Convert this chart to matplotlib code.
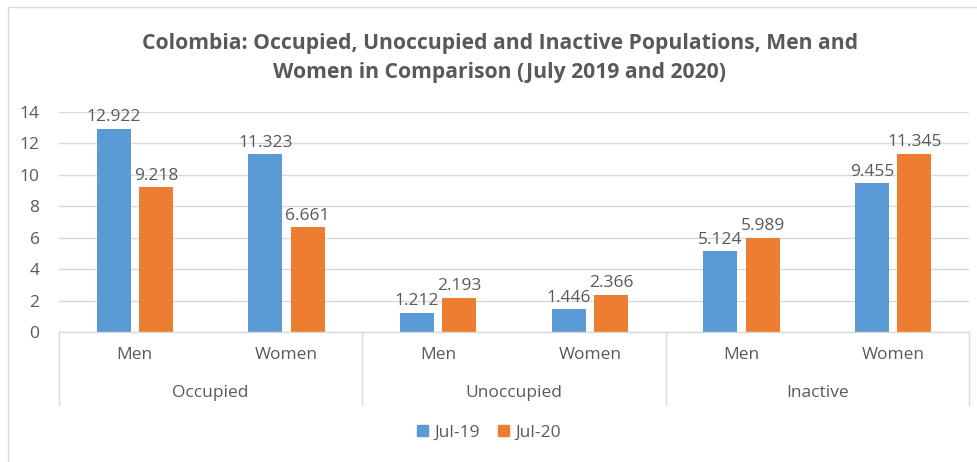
import matplotlib
matplotlib.use('Agg')
import matplotlib.pyplot as plt
import matplotlib.patches as mpatches
import matplotlib.transforms as mtransforms
import numpy as np

# Datos (millones de personas)
grupos = ['Occupied', 'Unoccupied', 'Inactive']
sexos = ['Men', 'Women']
jul19 = [12.922, 11.323, 1.212, 1.446, 5.124, 9.455]
jul20 = [9.218, 6.661, 2.193, 2.366, 5.989, 11.345]
series = ['Jul-19', 'Jul-20']

COR_AZUL = '#5B9BD5'
COR_LARANJA = '#ED7D31'
COR_TEXTO = '#595959'
COR_GRADE = '#D9D9D9'
FS = 12.5

plt.rcParams['font.family'] = ['Open Sans', 'DejaVu Sans']

fig = plt.figure(figsize=(9.78, 4.62), dpi=100)
ax = fig.add_axes([0.0603, 0.2814, 0.9305, 0.4762])

x = np.arange(len(jul19))
largura = 0.225
desloc = 0.14

b1 = ax.bar(x - desloc, jul19, width=largura, color=COR_AZUL, zorder=2)
b2 = ax.bar(x + desloc, jul20, width=largura, color=COR_LARANJA, zorder=2)

for bars, vals in ((b1, jul19), (b2, jul20)):
    for bar, v in zip(bars, vals):
        ax.annotate(f'{v:.3f}', (bar.get_x() + bar.get_width() / 2, v),
                    xytext=(0, 2.5), textcoords='offset points',
                    ha='center', va='bottom', fontsize=FS, color=COR_TEXTO)

ax.set_xlim(-0.5, len(jul19) - 0.5)
ax.set_ylim(0, 14)
ax.set_yticks(np.arange(0, 15, 2))
ax.tick_params(axis='y', length=0, pad=14, labelsize=FS, labelcolor=COR_TEXTO)
ax.set_xticks([])
ax.yaxis.grid(True, color=COR_GRADE, linewidth=1)
ax.set_axisbelow(True)
for s in ['top', 'right', 'left']:
    ax.spines[s].set_visible(False)
ax.spines['bottom'].set_color(COR_GRADE)
ax.spines['bottom'].set_linewidth(1)

# Eixo de categorias em dois níveis
trans = mtransforms.blended_transform_factory(ax.transData, ax.transAxes)
for xs in np.arange(-0.5, len(jul19), 2):
    ax.plot([xs, xs], [0, -0.332], transform=trans, color=COR_GRADE,
            linewidth=1, clip_on=False)
for i in x:
    ax.text(i, -0.105, sexos[i % 2], transform=trans, ha='center', va='center',
            fontsize=FS, color=COR_TEXTO)
for j, g in enumerate(grupos):
    ax.text(2 * j + 0.5, -0.277, g, transform=trans, ha='center', va='center',
            fontsize=FS, color=COR_TEXTO)

fig.text(0.511, 0.906, 'Colombia: Occupied, Unoccupied and Inactive Populations, Men and',
         ha='center', va='center', fontsize=15.2, fontweight='bold', color=COR_TEXTO)
fig.text(0.511, 0.842, 'Women in Comparison (July 2019 and 2020)',
         ha='center', va='center', fontsize=15.2, fontweight='bold', color=COR_TEXTO)

patches = [mpatches.Patch(color=COR_AZUL, label=series[0]),
           mpatches.Patch(color=COR_LARANJA, label=series[1])]
fig.legend(handles=patches, loc='center', bbox_to_anchor=(0.5, 0.063), ncol=2,
           frameon=False, fontsize=FS, labelcolor=COR_TEXTO,
           handlelength=0.6, handleheight=0.6, handletextpad=0.35, columnspacing=1.1)

# Borda do gráfico
fig.patches.append(mpatches.Rectangle((8 / 978, -0.1), 1.1, 1 - 7 / 462 + 0.1,
                                      transform=fig.transFigure, fill=False,
                                      edgecolor=COR_GRADE, linewidth=1))

fig.savefig('out.png', dpi=100, facecolor='white')
